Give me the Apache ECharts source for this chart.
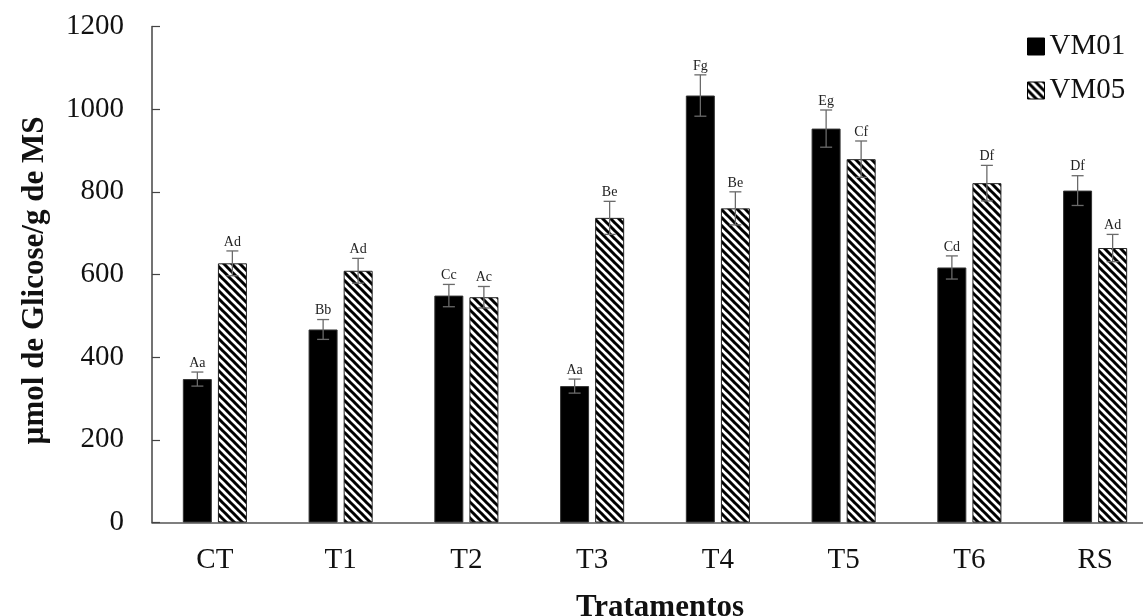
<!DOCTYPE html>
<html>
<head>
<meta charset="utf-8">
<script src="https://cdn.jsdelivr.net/npm/echarts@6/dist/echarts.min.js"></script>
<style>html,body{margin:0;padding:0;background:#fff;}#chart{width:1143px;height:616px;}</style>
</head>
<body>
<div id="chart"></div>
<script>
const categories = ['CT', 'T1', 'T2', 'T3', 'T4', 'T5', 'T6', 'RS'];
const seriesNames = ['VM01', 'VM05'];
const vm01 = [347, 467, 549, 330, 1033, 953, 617, 803];
const vm05 = [627, 609, 545, 737, 760, 879, 821, 664];
const err01 = [17, 24, 27, 17, 50, 45, 28, 36];
const err05 = [30, 30, 26, 40, 40, 44, 43, 33];
const letters01 = ['Aa', 'Bb', 'Cc', 'Aa', 'Fg', 'Eg', 'Cd', 'Df'];
const letters05 = ['Ad', 'Ad', 'Ac', 'Be', 'Be', 'Cf', 'Df', 'Ad'];
const yTicks = [0, 200, 400, 600, 800, 1000, 1200];

const SERIF = '"Liberation Serif", "Times New Roman", serif';
const BAR_W = 29;
const OFFSET = 17.5;

function hatch() {
  const s = 8;
  const c = document.createElement('canvas');
  c.width = s; c.height = s;
  const ctx = c.getContext('2d');
  ctx.fillStyle = '#fff';
  ctx.fillRect(0, 0, s, s);
  ctx.strokeStyle = '#000';
  ctx.lineWidth = 3.0;
  ctx.beginPath();
  [-s, 0, s].forEach(function (k) {
    ctx.moveTo(k - 1, -1);
    ctx.lineTo(k + s + 1, s + 1);
  });
  ctx.stroke();
  return c;
}
const hatchPattern = { image: hatch(), repeat: 'repeat' };

function errSeries(vals, errs, labs, dx) {
  const data = vals.map(function (v, i) { return [i, v, errs[i]]; });
  return {
    type: 'custom',
    silent: true,
    z: 5,
    data: data,
    encode: { x: 0, y: 1 },
    renderItem: function (params, api) {
      const i = api.value(0), v = api.value(1), e = api.value(2);
      const lab = labs[params.dataIndex];
      const top = api.coord([i, v + e]);
      const bot = api.coord([i, v - e]);
      const x = top[0] + dx;
      const cap = 6;
      const st = { stroke: '#6a6a6a', lineWidth: 1.3 };
      return {
        type: 'group',
        children: [
          { type: 'line', shape: { x1: x, y1: top[1], x2: x, y2: bot[1] }, style: st },
          { type: 'line', shape: { x1: x - cap, y1: top[1], x2: x + cap, y2: top[1] }, style: st },
          { type: 'line', shape: { x1: x - cap, y1: bot[1], x2: x + cap, y2: bot[1] }, style: st },
          { type: 'text', x: x, y: top[1] - 2, style: { text: lab, fill: '#222', font: '14px ' + SERIF, textAlign: 'center', textVerticalAlign: 'bottom' } }
        ]
      };
    }
  };
}

const chart = echarts.init(document.getElementById('chart'), null, { renderer: 'canvas' });
chart.setOption({
  animation: false,
  backgroundColor: '#fff',
  textStyle: { fontFamily: SERIF },
  grid: { left: 152, top: 26.5, width: 1006, height: 496, containLabel: false, outerBoundsMode: 'none' },
  legend: {
    orient: 'vertical',
    left: 1027,
    top: 32,
    padding: 0,
    itemWidth: 17,
    itemHeight: 17,
    itemGap: 15,
    icon: 'rect',
    itemStyle: { borderColor: '#000', borderWidth: 1 },
    textStyle: { fontFamily: SERIF, fontSize: 29, color: '#111', lineHeight: 28 },
    data: seriesNames
  },
  xAxis: {
    type: 'category',
    data: categories,
    name: 'Tratamentos',
    nameLocation: 'middle',
    nameGap: 70,
    nameTextStyle: { fontFamily: SERIF, fontSize: 31, fontWeight: 'bold', color: '#111', padding: [0, 0, 0, 10] },
    axisLine: { lineStyle: { color: '#555', width: 1.5 } },
    axisTick: { show: false },
    axisLabel: { fontFamily: SERIF, fontSize: 29, color: '#111', margin: 23 },
    splitLine: { show: false }
  },
  yAxis: {
    type: 'value',
    min: 0,
    max: 1200,
    interval: 200,
    name: 'µmol de Glicose/g de MS',
    nameLocation: 'middle',
    nameGap: 102,
    nameRotate: 90,
    nameTextStyle: { fontFamily: SERIF, fontSize: 31, fontWeight: 'bold', color: '#111', padding: [0, 12, 0, 0] },
    axisLine: { show: true, lineStyle: { color: '#444', width: 1.5 } },
    axisTick: { show: true, inside: true, length: 8, lineStyle: { color: '#444', width: 1.2 } },
    axisLabel: { fontFamily: SERIF, fontSize: 29, color: '#111', margin: 28,
      formatter: function (v) { return yTicks.indexOf(v) >= 0 ? String(v) : ''; } },
    splitLine: { show: false }
  },
  series: [
    {
      name: seriesNames[0], type: 'bar', data: vm01, barWidth: BAR_W, barGap: '21%',
      itemStyle: { color: '#000', borderColor: '#333', borderWidth: 1 }
    },
    {
      name: seriesNames[1], type: 'bar', data: vm05, barWidth: BAR_W,
      itemStyle: { color: hatchPattern, borderColor: '#222', borderWidth: 1 }
    },
    errSeries(vm01, err01, letters01, -OFFSET),
    errSeries(vm05, err05, letters05, OFFSET)
  ]
});
</script>
</body>
</html>
